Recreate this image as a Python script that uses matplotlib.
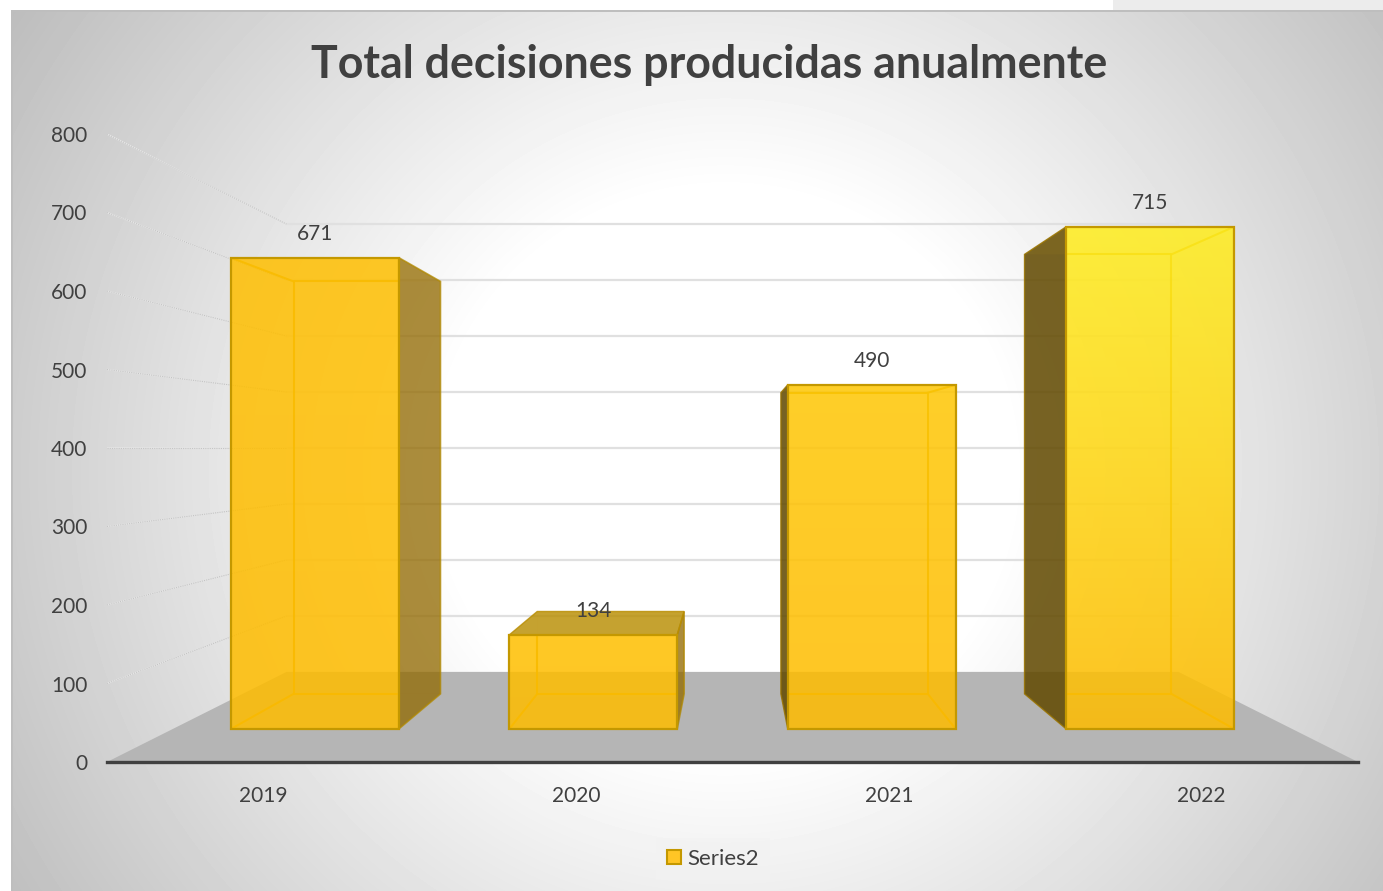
import matplotlib
matplotlib.use('Agg')
import matplotlib.pyplot as plt
import numpy as np
from matplotlib.patches import Patch, Polygon, Rectangle
from matplotlib.colors import to_rgb

years = ['2019', '2020', '2021', '2022']
values = [671, 134, 490, 715]
y_ticks = [0, 100, 200, 300, 400, 500, 600, 700, 800]
series_name = 'Series2'
title = 'Total decisiones producidas anualmente'

# цвета передней грани: верх и низ столбца
top_colors = ['#FFC002', '#FFC000', '#FFC805', '#FFEE1E']
bottom_colors = ['#FFBD00', '#FFBD00', '#FFBC00', '#FFBC00']

W, H = 1383, 891
TEXT = '#404040'
EDGE = '#C49800'
INNER = '#D8A800'
S_WALL = 0.713   # масштаб задней стены
S_FRONT = 0.895  # передняя грань столбца
S_BACK = 0.783   # задняя грань столбца
HALF = 0.3       # половина ширины столбца
SPREAD = 0.995   # столбцы чуть ближе к центру, чем подписи
plt.rcParams['font.family'] = ['Lato', 'DejaVu Sans']


def project(x, v, s):
    # перспектива: всё сходится к центру оси
    return 1.5 + (x - 1.5) * s, 400 + (v - 400) * s


def face(ax, pts, z, **kw):
    xy = [project(*p) for p in pts]
    ax.add_patch(Polygon(xy, closed=True, zorder=z, **kw))


fig = plt.figure(figsize=(W / 100, H / 100), dpi=100)

# фон: радиальный градиент
bg = fig.add_axes([0, 0, 1, 1], zorder=-1)
yy, xx = np.mgrid[0:H, 0:W]
d = np.sqrt(((xx - 725) / 715) ** 2 + ((yy - 470) / 700) ** 2)
gray = (255 - 50 * np.clip((d - 0.4) / 0.6, 0, None)) / 255
bg.imshow(gray, cmap='gray', vmin=0, vmax=1, extent=[0, W, H, 0], aspect='auto')
bg.add_patch(Rectangle((0, 0), 11, H, color='white', lw=0))
bg.add_patch(Rectangle((0, 0), W, 10, color='white', lw=0))
bg.add_patch(Rectangle((1113, 0), W - 1113, 10, color='#ECECEC', lw=0))
bg.add_patch(Rectangle((11, 10), W, 2, color='#BEBEBE', lw=0))
bg.add_patch(Rectangle((11, 10), 1.5, H, color='#BEBEBE', lw=0))
bg.set_xlim(0, W)
bg.set_ylim(H, 0)
bg.axis('off')

ax = fig.add_axes([107 / W, 1 - 762 / H, 1251 / W, 628 / H])
ax.patch.set_alpha(0)

# пол
face(ax, [(-0.5, 0, 1), (3.5, 0, 1), (3.5, 0, S_WALL), (-0.5, 0, S_WALL)], 1,
     facecolor='#B5B5B5', edgecolor='none')

# сетка на задней и левой стенах
for t in y_ticks[1:]:
    x0, y0 = project(-0.5, t, S_WALL)
    x1, y1 = project(3.5, t, S_WALL)
    ax.plot([x0, x1], [y0, y1], color='#E0E0E0', lw=1.6, zorder=2)
    x2, y2 = project(-0.5, t, 1)
    ax.plot([x2, x0], [y2, y0], color='#E6E6E6', lw=1.1, zorder=2)
    ax.plot([x2, x0], [y2, y0], color='#C4C4C4', lw=0.8, ls=(0, (1, 1)), zorder=2)

# столбцы
for i, v in enumerate(values):
    c = 1.5 + (i - 1.5) * SPREAD
    l, r = c - HALF, c + HALF
    z = 3 + i * 0.1
    inner = dict(facecolor=INNER, alpha=0.06, edgecolor='none')

    face(ax, [(l, 0, S_FRONT), (r, 0, S_FRONT), (r, 0, S_BACK), (l, 0, S_BACK)], z, **inner)
    face(ax, [(l, 0, S_BACK), (r, 0, S_BACK), (r, v, S_BACK), (l, v, S_BACK)], z, **inner)

    left_out = project(l, 0, S_BACK)[0] < project(l, 0, S_FRONT)[0]
    right_out = project(r, 0, S_BACK)[0] > project(r, 0, S_FRONT)[0]
    top_out = v < 400

    left_pts = [(l, 0, S_FRONT), (l, v, S_FRONT), (l, v, S_BACK), (l, 0, S_BACK)]
    right_pts = [(r, 0, S_FRONT), (r, v, S_FRONT), (r, v, S_BACK), (r, 0, S_BACK)]
    top_pts = [(l, v, S_FRONT), (r, v, S_FRONT), (r, v, S_BACK), (l, v, S_BACK)]
    if left_out:
        face(ax, left_pts, z, facecolor='#604800', alpha=0.85, edgecolor='#9A7400', lw=1)
    else:
        face(ax, left_pts, z, **inner)
    if right_out:
        face(ax, right_pts, z, facecolor='#906800', alpha=0.75, edgecolor='#B08800', lw=1.2)
    else:
        face(ax, right_pts, z, **inner)
    if top_out:
        face(ax, top_pts, z, facecolor='#B88C00', alpha=0.8, edgecolor='#B88C00', lw=1)
    else:
        face(ax, top_pts, z, **inner)

    # передняя грань с градиентом
    x0, y0 = project(l, 0, S_FRONT)
    x1, y1 = project(r, v, S_FRONT)
    c0, c1 = np.array(to_rgb(top_colors[i])), np.array(to_rgb(bottom_colors[i]))
    k = np.linspace(0, 1, 256)[:, None, None]
    img = np.dstack([(c0 + (c1 - c0) * k)[:, :, :], np.full((256, 1, 1), 0.85)])
    ax.imshow(img, extent=[x0, x1, y0, y1], aspect='auto', zorder=z + 0.02, origin='upper')
    front = Rectangle((x0, y0), x1 - x0, y1 - y0, fill=False, edgecolor=EDGE, lw=1.6,
                      zorder=z + 0.03)
    ax.add_patch(front)

    # внутренние рёбра видны только сквозь переднюю грань
    edge_kw = dict(color=INNER, lw=1.5, alpha=0.9, zorder=z + 0.01)
    back = [project(l, 0, S_BACK), project(r, 0, S_BACK), project(r, v, S_BACK),
            project(l, v, S_BACK), project(l, 0, S_BACK)]
    lines = ax.plot(*zip(*back), **edge_kw)
    for px, pv in [(l, 0), (r, 0), (l, v), (r, v)]:
        lines += ax.plot(*zip(project(px, pv, S_FRONT), project(px, pv, S_BACK)), **edge_kw)
    for line in lines:
        line.set_clip_path(front)

    # подпись значения
    ax.annotate(str(v), project(c, v, S_FRONT), xytext=(0, 17.3), textcoords='offset points',
                ha='center', va='center', fontsize=15, color=TEXT, zorder=10)

ax.set_xlim(-0.5, 3.5)
ax.set_ylim(0, 800)
ax.set_xticks(range(len(years)), years)
ax.set_yticks(y_ticks)
ax.tick_params(axis='both', length=0, labelsize=15, labelcolor=TEXT)
ax.tick_params(axis='y', pad=14)
ax.tick_params(axis='x', pad=17)
for side in ['left', 'right', 'top']:
    ax.spines[side].set_visible(False)
ax.spines['bottom'].set_color(TEXT)
ax.spines['bottom'].set_linewidth(2.4)
ax.spines['bottom'].set_zorder(20)

fig.text(709 / W, 1 - 65 / H, title, ha='center', va='center', fontsize=32.2, fontweight='bold',
         color=TEXT)

handle = Patch(facecolor='#FFC525', edgecolor=EDGE, lw=1.5, label=series_name)
fig.legend(handles=[handle], loc='center', bbox_to_anchor=(713 / W, 1 - 859 / H), fontsize=16,
           labelcolor=TEXT, facecolor='#F2F2F2', edgecolor='none', framealpha=0.6, fancybox=False,
           handlelength=0.63, handleheight=0.63, handletextpad=0.3, borderpad=0.5)

fig.savefig('out.png', dpi=100)
